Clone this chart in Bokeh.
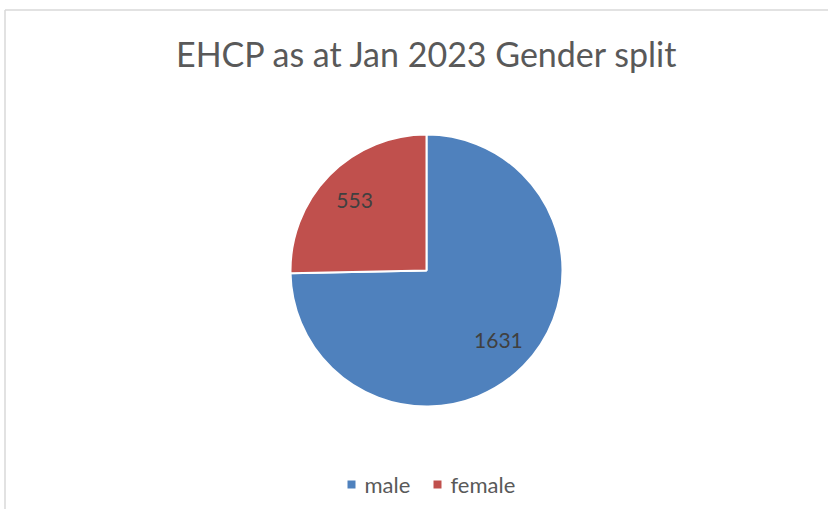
import numpy as np
from bokeh.plotting import figure
from bokeh.models import Range1d, ColumnDataSource
from bokeh.core.properties import value
from bokeh.embed import file_html
from bokeh.resources import INLINE

# ---- data ----
title_text = "EHCP as at Jan 2023 Gender split"
categories = ["male", "female"]
counts = [1631, 553]
colors = ["#4F81BD", "#C0504D"]

W, H = 828, 509
p = figure(width=W, height=H, output_backend="svg", toolbar_location=None,
           x_range=Range1d(0, W), y_range=Range1d(0, H),
           min_border=0, min_border_left=0, min_border_right=0,
           min_border_top=0, min_border_bottom=0)
p.axis.visible = False
p.grid.visible = False
p.outline_line_color = None
p.background_fill_color = "white"
p.border_fill_color = "white"

FONT = "Lato"

def py(img_y):
    # image y (top-down) -> data y (bottom-up)
    return H - img_y

# chart border (top and left edges visible)
p.line(x=[4.5, W], y=[py(9.5), py(9.5)], line_color="#D9D9D9", line_width=1.5)
p.line(x=[4.5, 4.5], y=[py(9.5), 0], line_color="#D9D9D9", line_width=1.5)

# title
p.text(x=[427], y=[py(53)], text=[title_text], text_font=value(FONT),
       text_font_size="34px", text_color="#595959",
       text_align="center", text_baseline="middle")

# pie: male starts at 12 o'clock going clockwise; female fills the rest
cx, cy, R = 426, py(270), 136
total = sum(counts)
fracs = np.array(counts) / total
f_start = np.pi / 2
f_end = f_start + fracs[1] * 2 * np.pi
starts = [f_end, f_start]
ends = [f_start + 2 * np.pi, f_end]
src = ColumnDataSource(dict(start=starts, end=ends, color=colors, cat=categories))
p.wedge(x=cx, y=cy, radius=R, radius_units="screen", start_angle="start",
        end_angle="end", fill_color="color", line_color="white", line_width=2,
        source=src)

# data labels
lab_r = 0.74 * R
mids = [(s + e) / 2 for s, e in zip(starts, ends)]
lx = [cx + lab_r * np.cos(m) for m in mids]
ly = [cy + lab_r * np.sin(m) for m in mids]
p.text(x=lx, y=ly, text=[str(c) for c in counts], text_font=value(FONT),
       text_font_size="21px", text_color="#404040",
       text_align="center", text_baseline="middle")

# legend (manual)
leg_y = py(484)
marker_x = [351, 437]
p.scatter(x=marker_x, y=[leg_y] * 2, marker="square", size=8,
          fill_color=colors, line_color=None)
p.text(x=[m + 13 for m in marker_x], y=[leg_y] * 2, text=categories,
       text_font=value(FONT), text_font_size="22px", text_color="#595959",
       text_align="left", text_baseline="middle")

open("out.html", "w").write(file_html(p, INLINE))
